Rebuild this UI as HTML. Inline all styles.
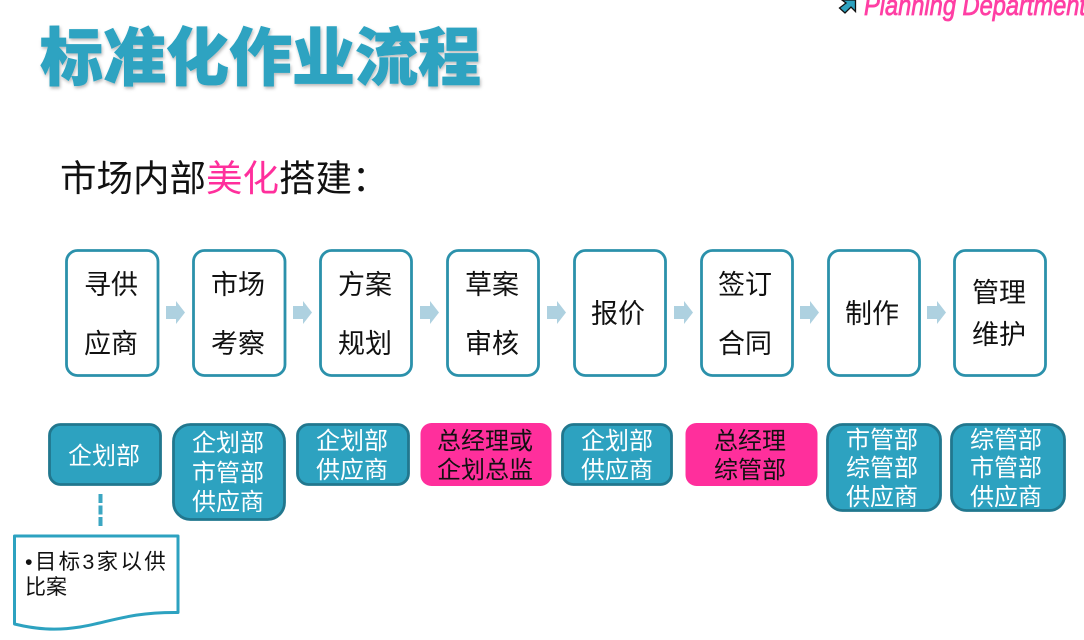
<!DOCTYPE html>
<html lang="zh">
<head>
<meta charset="utf-8">
<style>
html,body{margin:0;padding:0;background:#fff;width:1084px;height:640px;overflow:hidden}
svg{display:block}
text{font-family:"Liberation Sans","Noto Sans CJK SC",sans-serif}
.t{font-size:27px;fill:#111;text-anchor:middle}
.w{font-size:24px;fill:#fff;text-anchor:middle}
.k{font-size:24px;fill:#111;text-anchor:middle}
.box{fill:#fff;stroke:#2b91ab;stroke-width:2.8}
.blue{fill:#2da2c0;stroke:#21778e;stroke-width:2.8}
.pink{fill:#ff2f9c}
.ar{fill:#aed1e0}
</style>
</head>
<body>
<svg width="1084" height="640" viewBox="0 0 1084 640" xmlns="http://www.w3.org/2000/svg">
<defs>
<filter id="s" x="-5%" y="-10%" width="110%" height="125%"><feDropShadow dx="1" dy="2" stdDeviation="1.5" flood-color="#000" flood-opacity=".28"/></filter>
<path id="a" d="M166 306H176V301L185 312.500L176 324V319H166Z"/>
</defs>

<path d="M839.500 8L846 3L842 0H855.500V11.500L851 7L845 13Z" fill="#2da2c0" stroke="#111" stroke-width="1.300"/>
<text x="864" y="15" font-size="29" font-style="italic" style="font-family:'Liberation Sans',sans-serif" fill="#ff3fa4" stroke="#ff3fa4" stroke-width=".8" textLength="222" lengthAdjust="spacingAndGlyphs">Planning Department</text>

<text x="40" y="80" font-size="63" font-weight="900" fill="#2da3c1" stroke="#2da3c1" stroke-width=".7" filter="url(#s)" style="font-family:'Noto Sans CJK SC',sans-serif">标准化作业流程</text>

<text x="60" y="191" font-size="36.500" fill="#111">市场内部<tspan fill="#ff2f9c">美化</tspan>搭建：</text>

<g>
<rect class="box" x="66.500" y="250.500" width="91.500" height="125" rx="11"/>
<rect class="box" x="193.500" y="250.500" width="91.500" height="125" rx="11"/>
<rect class="box" x="320.500" y="250.500" width="91" height="125" rx="11"/>
<rect class="box" x="447.500" y="250.500" width="91" height="125" rx="11"/>
<rect class="box" x="574.500" y="250.500" width="91" height="125" rx="11"/>
<rect class="box" x="701.500" y="250.500" width="91" height="125" rx="11"/>
<rect class="box" x="828.500" y="250.500" width="91" height="125" rx="11"/>
<rect class="box" x="954.500" y="250.500" width="91" height="125" rx="11"/>
</g>

<text class="t" x="111" y="294">寻供</text><text class="t" x="111" y="353">应商</text>
<text class="t" x="238" y="294">市场</text><text class="t" x="238" y="353">考察</text>
<text class="t" x="365" y="294">方案</text><text class="t" x="365" y="353">规划</text>
<text class="t" x="492" y="294">草案</text><text class="t" x="492" y="353">审核</text>
<text class="t" x="618" y="323">报价</text>
<text class="t" x="745" y="294">签订</text><text class="t" x="745" y="353">合同</text>
<text class="t" x="872" y="323">制作</text>
<text class="t" x="999" y="302">管理</text><text class="t" x="999" y="344">维护</text>

<g class="ar">
<use href="#a"/>
<use href="#a" x="127"/>
<use href="#a" x="254"/>
<use href="#a" x="381"/>
<use href="#a" x="508"/>
<use href="#a" x="634"/>
<use href="#a" x="761"/>
</g>

<rect class="blue" x="49.500" y="424.500" width="111" height="60" rx="11"/>
<rect class="blue" x="173.500" y="424.500" width="111" height="95" rx="17"/>
<rect class="blue" x="297.500" y="424.500" width="111" height="60" rx="11"/>
<rect class="pink" x="420.500" y="423" width="131" height="63" rx="11"/>
<rect class="blue" x="562.500" y="424.500" width="109" height="60" rx="11"/>
<rect class="pink" x="685.500" y="423" width="132" height="63" rx="11"/>
<rect class="blue" x="827.500" y="424.500" width="113" height="86" rx="15"/>
<rect class="blue" x="951.500" y="424.500" width="113" height="86" rx="15"/>

<text class="w" x="104" y="464">企划部</text>
<text class="w" x="228" y="451">企划部</text><text class="w" x="228" y="481">市管部</text><text class="w" x="228" y="510">供应商</text>
<text class="w" x="352" y="449">企划部</text><text class="w" x="352" y="478">供应商</text>
<text class="k" x="485" y="449">总经理或</text><text class="k" x="485" y="478">企划总监</text>
<text class="w" x="617" y="449">企划部</text><text class="w" x="617" y="478">供应商</text>
<text class="k" x="750" y="449">总经理</text><text class="k" x="750" y="478">综管部</text>
<text class="w" x="882" y="448">市管部</text><text class="w" x="882" y="476">综管部</text><text class="w" x="882" y="505">供应商</text>
<text class="w" x="1006" y="448">综管部</text><text class="w" x="1006" y="476">市管部</text><text class="w" x="1006" y="505">供应商</text>

<path d="M100.500 494V527" stroke="#3ba6c2" stroke-width="4" stroke-dasharray="9 2.500" fill="none"/>

<path d="M14.500 536H178V612.500C130 612 110 622 80 627C55 631 35 629 14.500 624Z" fill="#fff" stroke="#2da2c0" stroke-width="3" stroke-linejoin="round"/>
<text x="25" y="569" font-size="21.500" fill="#111" letter-spacing="2.300">•目标3家以供</text>
<text x="25" y="594" font-size="21" fill="#111">比案</text>
</svg>
</body>
</html>
